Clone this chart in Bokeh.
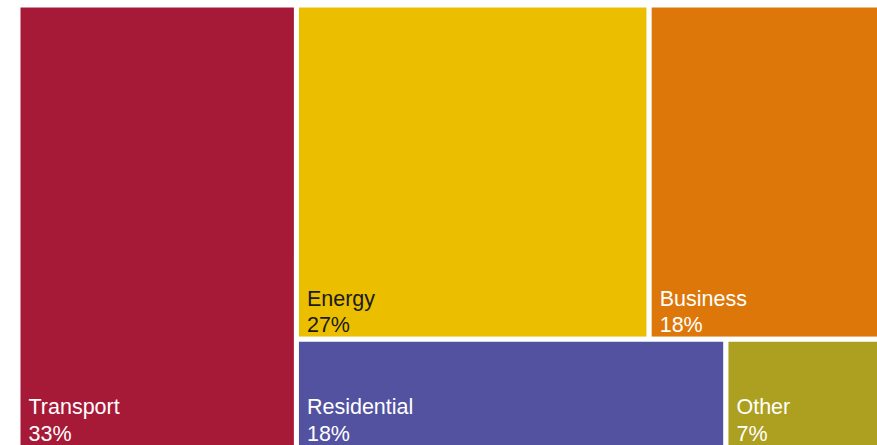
from bokeh.plotting import figure
from bokeh.models import ColumnDataSource, Range1d
from bokeh.core.properties import value
from bokeh.embed import file_html
from bokeh.resources import INLINE

# ---- data ----
categories = ["Transport", "Energy", "Business", "Residential", "Other"]
shares = [33.4, 27.2, 17.8, 18.4, 6.6]          # % of emissions (labels show rounded values)
block = [0, 1, 1, 1, 1]                          # 0 = left column, 1 = right block
row = [0, 0, 0, 1, 1]                            # row inside the right block
colors = ["#A71A37", "#EBBE00", "#DE7709", "#5352A0", "#AD9F1F"]

# ---- nested slice-and-dice treemap layout in value space (x) and unit height (y) ----
S = sum(shares)
n = len(shares)
L = [0.0] * n; R = [0.0] * n; T = [0.0] * n; B = [0.0] * n
x_cursor = 0.0
for b in sorted(set(block)):
    idx_b = [i for i in range(n) if block[i] == b]
    bsum = sum(shares[i] for i in idx_b)
    bw = bsum  # block width in value units (full height = 1)
    y_cursor = 1.0
    for r in sorted(set(row[i] for i in idx_b)):
        idx_r = [i for i in idx_b if row[i] == r]
        rsum = sum(shares[i] for i in idx_r)
        rh = rsum / bsum
        xc = x_cursor
        for i in idx_r:
            w = shares[i] / rsum * bw
            L[i], R[i] = xc, xc + w
            T[i], B[i] = y_cursor, y_cursor - rh
            xc += w
        y_cursor -= rh
    x_cursor += bw

# ---- canvas geometry ----
W, H = 877, 445
gap = 5
x0_px, x1_px = 20 - gap / 2, 877 + gap / 2     # treemap horizontal extent in px
full_h_px = 520                                  # full treemap height (view is cropped at bottom)
top_px = 7 - gap / 2
ppx = (x1_px - x0_px) / S
x_range = Range1d(-x0_px / ppx, S + (W - x1_px) / ppx)
y_range = Range1d(1 - (H - top_px) / full_h_px, 1 + top_px / full_h_px)

def lum(hexc):
    r, g, b = (int(hexc[i:i + 2], 16) for i in (1, 3, 5))
    return 0.299 * r + 0.587 * g + 0.114 * b

cropped = [b < y_range.start for b in B]
y_lab = [y_range.start if c else b for b, c in zip(B, cropped)]
pct_off = [-12 if c else -14 for c in cropped]
name_off = [o - 26.5 for o in pct_off]

src = ColumnDataSource(dict(
    left=L, right=R, top=T, bottom=B, color=colors,
    name=categories, pct=[f"{round(s)}%" for s in shares],
    lx=L, ly=y_lab, po=pct_off, no=name_off,
    tcol=["#1a1a1a" if lum(c) > 150 else "white" for c in colors],
))

p = figure(width=W, height=H, x_range=x_range, y_range=y_range,
           output_backend="svg", toolbar_location=None, min_border=0)
p.axis.visible = False
p.grid.visible = False
p.outline_line_color = None
p.background_fill_color = "white"
p.border_fill_color = "white"

p.quad(left="left", right="right", top="top", bottom="bottom", source=src,
       fill_color="color", line_color="white", line_width=gap)

common = dict(x="lx", y="ly", source=src, text_color="tcol",
              text_font=value("Liberation Sans"), text_font_size="21.5px",
              text_align="left", text_baseline="alphabetic", x_offset=10.5)
p.text(text="pct", y_offset="po", **common)
p.text(text="name", y_offset="no", **common)

open("out.html", "w").write(file_html(p, INLINE))
